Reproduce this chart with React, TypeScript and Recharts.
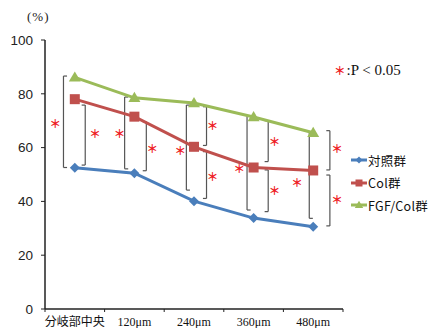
import React from 'react';
import { LineChart, Line, XAxis, YAxis, ReferenceLine, ReferenceDot, Legend } from 'recharts';

const categories = ['分岐部中央', '120μm', '240μm', '360μm', '480μm'];
const controlValues = [52.5, 50.5, 40.1, 33.8, 30.6];
const colValues = [78, 71.5, 60.3, 52.6, 51.5];
const fgfColValues = [86.1, 78.5, 76.6, 71.4, 65.5];
const yTicks = [0, 20, 40, 60, 80, 100];
const xBoundaryTicks = [-0.5, 0.5, 1.5, 2.5, 3.5, 4.5];

const seriesNames = ['対照群', 'Col群', 'FGF/Col群'];
const seriesColors = ['#4A7EBB', '#C0504D', '#9BBB59'];

// significance brackets: [category, offset, top value, bottom value, side]
const brackets: [number, number, number, number, 'L' | 'R'][] = [
  [0, -0.19, 86.6, 52.6, 'L'],
  [0, 0.175, 75.8, 53.5, 'R'],
  [1, -0.164, 78.8, 52.1, 'L'],
  [1, 0.2, 69.6, 51.4, 'R'],
  [2, -0.128, 75.8, 44.2, 'L'],
  [2, 0.21, 75.2, 60.8, 'R'],
  [2, 0.21, 58.5, 41.1, 'R'],
  [3, -0.11, 71.7, 36.8, 'L'],
  [3, 0.245, 70, 54.8, 'R'],
  [3, 0.245, 51.7, 36.2, 'R'],
  [4, -0.066, 65.9, 33.7, 'L'],
  [4, 0.28, 66.3, 51.7, 'R'],
  [4, 0.28, 49.8, 30.9, 'R'],
];

// asterisks: [category, offset, value]
const asterisks: [number, number, number][] = [
  [0, -0.33, 68.7],
  [0, 0.34, 65],
  [1, -0.25, 65],
  [1, 0.3, 59.4],
  [2, -0.23, 58.7],
  [2, 0.31, 68],
  [2, 0.31, 49.2],
  [3, -0.24, 51.9],
  [3, 0.35, 62],
  [3, 0.35, 43.9],
  [4, -0.27, 47],
  [4, 0.4, 59.5],
  [4, 0.4, 40.5],
];

const data = categories.map((c, i) => ({
  x: i,
  label: c,
  ctrl: controlValues[i],
  col: colValues[i],
  fgf: fgfColValues[i],
}));

const SERIF = "'Liberation Serif', 'Noto Sans CJK JP', serif";
const SANS = "'Liberation Sans', Arial, sans-serif";
const CJK = "'Noto Sans CJK JP', 'Liberation Sans', sans-serif";
const RED = '#EE1C25';
const BRACKET = '#555';
const SERIF_LEN = 0.06;

function Marker({ kind, cx, cy, s = 1 }: { kind: number; cx: number; cy: number; s?: number }) {
  if (kind === 0) {
    const r = 5 * s;
    return <polygon points={`${cx},${cy - r} ${cx + r},${cy} ${cx},${cy + r} ${cx - r},${cy}`} fill={seriesColors[0]} />;
  }
  if (kind === 1) {
    const r = 5 * s;
    return <rect x={cx - r} y={cy - r} width={2 * r} height={2 * r} fill={seriesColors[1]} />;
  }
  const r = 6 * s;
  return (
    <polygon
      points={`${cx},${cy - r} ${cx + r},${cy + r * 0.7} ${cx - r},${cy + r * 0.7}`}
      fill={seriesColors[2]}
    />
  );
}

const makeDot = (kind: number) => (props: any) => {
  const { cx, cy, index } = props;
  if (cx == null || cy == null) return <g key={`d${kind}-${index}`} />;
  return (
    <g key={`d${kind}-${index}`}>
      <Marker kind={kind} cx={cx} cy={cy} />
    </g>
  );
};

function XTick(props: any) {
  const { x, y, payload, width } = props;
  const idx = Math.round(payload.value + 0.5);
  if (idx < 0 || idx >= categories.length) return null;
  const band = (typeof width === 'number' && width > 0 ? width : 298) / categories.length;
  return (
    <text x={x + band / 2} y={y} dy={10} textAnchor="middle" fontFamily={SERIF} fontSize={12} fill="#111">
      {categories[idx]}
    </text>
  );
}

function LegendContent() {
  return (
    <div style={{ display: 'flex', flexDirection: 'column' }}>
      {seriesNames.map((n, i) => (
        <div key={n} style={{ display: 'flex', alignItems: 'center', height: 22.5 }}>
          <svg width={16} height={12} style={{ display: 'block' }}>
            <line x1={0} y1={6} x2={16} y2={6} stroke={seriesColors[i]} strokeWidth={3} />
            <Marker kind={i} cx={8} cy={6} s={0.7} />
          </svg>
          <span style={{ fontFamily: CJK, fontSize: 12.5, color: '#111', marginLeft: 1, letterSpacing: 0.3 }}>{n}</span>
        </div>
      ))}
    </div>
  );
}

export default function App() {
  return (
    <div style={{ position: 'absolute', left: 0, top: 0, width: 429, height: 328, background: '#fff' }}>
      <LineChart width={429} height={328} data={data} margin={{ top: 40, right: 86, bottom: 0, left: 0 }}>
        <XAxis
          dataKey="x"
          type="number"
          domain={[-0.5, 4.5]}
          ticks={xBoundaryTicks}
          interval={0}
          height={19}
          tickSize={3}
          tickMargin={4}
          tick={<XTick />}
          axisLine={{ stroke: '#222', strokeWidth: 1.5 }}
          tickLine={{ stroke: '#222', strokeWidth: 1 }}
          allowDataOverflow
        />
        <YAxis
          type="number"
          domain={[0, 100]}
          ticks={yTicks}
          interval={0}
          width={45}
          tickSize={4}
          tickMargin={8}
          tick={{ fontFamily: SANS, fontSize: 13.5, fill: '#222' }}
          axisLine={{ stroke: '#222', strokeWidth: 1.5 }}
          tickLine={{ stroke: '#222', strokeWidth: 1 }}
        />
        {brackets.map(([c, off, top, bot, side], i) => {
          const bx = c + off;
          const d = side === 'L' ? SERIF_LEN : -SERIF_LEN;
          return [
            <ReferenceLine
              key={`bv${i}`}
              segment={[{ x: bx, y: top }, { x: bx, y: bot }]}
              stroke={BRACKET}
              strokeWidth={1.2}
              ifOverflow="visible"
            />,
            <ReferenceLine
              key={`bt${i}`}
              segment={[{ x: bx, y: top }, { x: bx + d, y: top }]}
              stroke={BRACKET}
              strokeWidth={1.2}
              ifOverflow="visible"
            />,
            <ReferenceLine
              key={`bb${i}`}
              segment={[{ x: bx, y: bot }, { x: bx + d, y: bot }]}
              stroke={BRACKET}
              strokeWidth={1.2}
              ifOverflow="visible"
            />,
          ];
        })}
        <Line dataKey="ctrl" name={seriesNames[0]} stroke={seriesColors[0]} strokeWidth={3} dot={makeDot(0)} isAnimationActive={false} />
        <Line dataKey="col" name={seriesNames[1]} stroke={seriesColors[1]} strokeWidth={3} dot={makeDot(1)} isAnimationActive={false} />
        <Line dataKey="fgf" name={seriesNames[2]} stroke={seriesColors[2]} strokeWidth={3} dot={makeDot(2)} isAnimationActive={false} />
        {asterisks.map(([c, off, v], i) => (
          <ReferenceDot
            key={`a${i}`}
            x={c + off}
            y={v}
            ifOverflow="visible"
            shape={(p: any) => (
              <text x={p.cx} y={p.cy} dy={4} textAnchor="middle" fontFamily={CJK} fontSize={11.5} fontWeight="bold" fill={RED}>
                ＊
              </text>
            )}
          />
        ))}
        <Legend
          layout="vertical"
          align="center"
          verticalAlign="middle"
          content={<LegendContent />}
          wrapperStyle={{ left: 351, top: 149, width: 78, height: 70 }}
        />
      </LineChart>
      <div style={{ position: 'absolute', left: 27, top: 9, fontFamily: SERIF, fontSize: 13, color: '#222', letterSpacing: 1 }}>(%)</div>
      <div style={{ position: 'absolute', left: 334, top: 62, fontFamily: SERIF, fontSize: 15, color: '#111', whiteSpace: 'nowrap' }}>
        <span style={{ color: RED, fontFamily: CJK, fontSize: 11.5, fontWeight: 'bold', marginRight: 1 }}>＊</span>:P &lt; 0.05
      </div>
    </div>
  );
}
